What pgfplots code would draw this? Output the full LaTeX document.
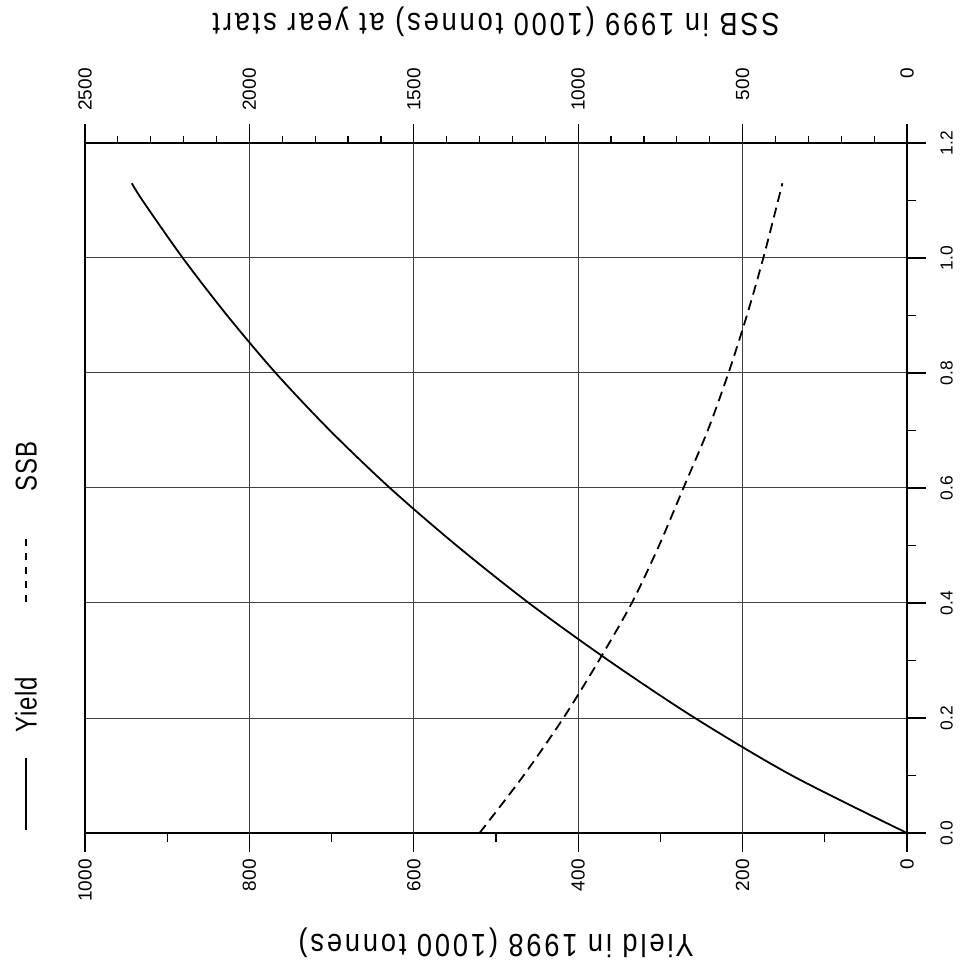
\documentclass[border=0pt]{standalone}
\usepackage{pgfplots}
\pgfplotsset{compat=1.18}
\usepackage{fontspec}
\setmainfont{Liberation Sans}
\newfontfamily\labelfont[FakeStretch=0.85, LetterSpace=9]{Liberation Sans}
\newfontfamily\legfont[FakeStretch=0.8, LetterSpace=3]{Liberation Sans}
\usetikzlibrary{calc}
\newcommand{\legdash}{\rule[0.33em]{3.5pt}{0.9pt}}
\begin{document}
\begin{tikzpicture}
\begin{axis}[
  name=main,
  scale only axis,
  clip=false,
  width=411pt, height=345pt,
  xmin=0, xmax=1000, x dir=reverse,
  ymin=0, ymax=1.2,
  xtick={0,200,400,600,800,1000},
  ytick={0,0.2,0.4,0.6,0.8,1.0,1.2},
  minor x tick num=1,
  minor y tick num=1,
  xtick pos=left, ytick pos=right,
  xticklabel pos=left, yticklabel pos=right,
  tick align=outside,
  major tick length=9.5pt, minor tick length=4.5pt,
  grid=major,
  major grid style={black!75, line width=0.5pt},
  axis line style={line width=0.9pt},
  every tick/.style={black, line width=0.6pt},
  /pgf/number format/assume math mode=true,
  /pgf/number format/1000 sep={},
  tick label style={font=\fontsize{9.5}{11}\selectfont, inner sep=0pt},
  xticklabel style={rotate=90, anchor=east},
  xticklabel shift=3.5pt,
  yticklabel style={rotate=90, anchor=north, font=\fontsize{8.7}{10}\selectfont, /pgf/number format/.cd, fixed, fixed zerofill, precision=1},
  yticklabel shift=7pt,
  xlabel={\labelfont Yield in 1998 (1000 tonnes)},
  xlabel style={font=\fontsize{16}{19}\selectfont, rotate=180, at={(axis description cs:0.5,-0.159)}, anchor=center},
]
\addplot[black, line width=0.9pt, smooth] table {
x y
0 0
140 0.1
258 0.2
363 0.3
460 0.4
548 0.5
629 0.6
702 0.7
768 0.8
827 0.9
881 1.0
930 1.1
943 1.13
};
\node[rotate=90, anchor=west, inner sep=0pt, font=\fontsize{15}{17}\selectfont\legfont]
  at (axis description cs:-0.0718,0.004)
  {\rule[0.33em]{36pt}{0.9pt}\hspace{12.5pt}Yield\hspace{37.5pt}\legdash\hspace{3.5pt}\legdash\hspace{3.5pt}\legdash\hspace{3.5pt}\legdash\hspace{3.5pt}\legdash\hspace{23.5pt}SSB};
\end{axis}
\begin{axis}[
  scale only axis,
  width=411pt, height=345pt,
  xmin=0, xmax=2500, x dir=reverse,
  ymin=0, ymax=1.2,
  axis x line*=top,
  axis y line=none,
  xtick={0,500,1000,1500,2000,2500},
  minor x tick num=4,
  tick align=outside,
  major tick length=9.5pt, minor tick length=3.5pt,
  axis line style={line width=0.9pt},
  every tick/.style={black, line width=0.6pt},
  /pgf/number format/assume math mode=true,
  /pgf/number format/1000 sep={},
  tick label style={font=\fontsize{9.5}{11}\selectfont, inner sep=0pt},
  xticklabel style={rotate=90, anchor=east},
  xticklabel shift=28pt,
  xlabel={\labelfont SSB in 1999 (1000 tonnes) at year start},
  xlabel style={font=\fontsize{16}{19}\selectfont, rotate=180, at={(axis description cs:0.5,1.175)}, anchor=center},
]
\addplot[black, line width=0.9pt, smooth, dash pattern=on 5pt off 3pt] table {
x y
1300 0
1166 0.1
1045 0.2
937 0.3
837 0.4
754 0.5
680 0.6
606 0.7
543 0.8
487 0.9
437 1.0
392 1.1
379 1.13
};
\end{axis}
\pgfresetboundingbox
\path[use as bounding box] ($(main.south west)+(-42.5pt,-68pt)$) rectangle ($(main.north east)+(31pt,71.5pt)$);
\end{tikzpicture}
\end{document}
